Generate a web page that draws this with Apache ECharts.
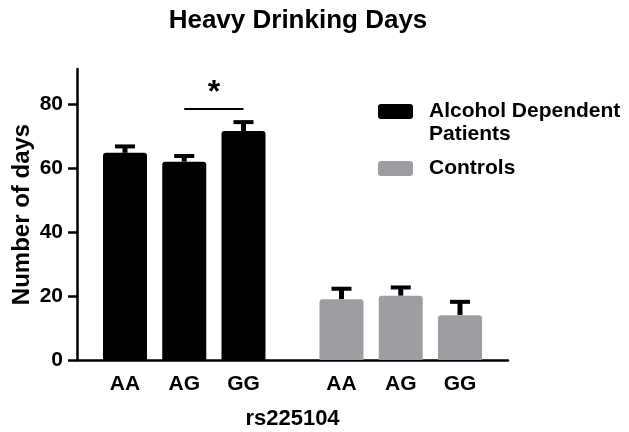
<!DOCTYPE html>
<html>
<head>
<meta charset="utf-8">
<script src="https://cdn.jsdelivr.net/npm/echarts@6/dist/echarts.min.js"></script>
<style>html,body{margin:0;padding:0;background:#fff;}#c{width:629px;height:432px;}</style>
</head>
<body>
<div id="c"></div>
<script>
// ---- data ----
var genotypes = ['AA', 'AG', 'GG'];
var groups = ['Alcohol Dependent Patients', 'Controls'];
var patientMeans = [64.8, 62.0, 71.6];
var patientErrors = [2.3, 2.1, 3.1];
var controlMeans = [19.0, 20.1, 14.0];
var controlErrors = [3.6, 2.9, 4.5];
var yTicks = [0, 20, 40, 60, 80];
var sigPair = [1, 2];      // AG vs GG in patients
var sigValue = 78.5;
var sigText = '*';

// ---- layout helpers ----
var FONT = '"Liberation Sans", Arial, sans-serif';
var startOffset = 0.81, groupGap = 0.654, xMax = 7.274;
function pos(groupIdx, catIdx) {
  var i = groupIdx * genotypes.length + catIdx;
  return startOffset + i + (groupIdx > 0 ? groupGap : 0);
}
var positions = [], posLabel = {};
[0, 1].forEach(function (g) {
  genotypes.forEach(function (c, k) {
    var p = +pos(g, k).toFixed(4);
    positions.push(p);
    posLabel[p] = c;
  });
});
function barData(g, means) { return means.map(function (v, k) { return [pos(g, k), v]; }); }
function errData(g, means, errs) { return means.map(function (v, k) { return [pos(g, k), v, errs[k]]; }); }

var chart = echarts.init(document.getElementById('c'));
chart.setOption({
  animation: false,
  title: {
    text: 'Heavy Drinking Days', left: 293, textAlign: 'center', top: 3,
    textStyle: { fontFamily: FONT, fontSize: 26, fontWeight: 'bold', color: '#000' }
  },
  grid: { left: 77, right: 121, top: 69, bottom: 72, containLabel: false, outerBoundsMode: 'none' },
  xAxis: {
    type: 'value', min: 0, max: xMax,
    name: 'rs225104', nameLocation: 'middle', nameGap: 48, nameMoveOverlap: false,
    nameTextStyle: { fontFamily: FONT, fontSize: 22, fontWeight: 'bold', color: '#000' },
    axisLine: { show: true, lineStyle: { color: '#000', width: 2.5 } },
    axisTick: { show: false },
    splitLine: { show: false },
    axisLabel: {
      customValues: positions, margin: 14,
      formatter: function (v) { return posLabel[+v.toFixed(4)] || ''; },
      fontFamily: FONT, fontSize: 21, fontWeight: 'bold', color: '#000'
    }
  },
  yAxis: {
    type: 'value', min: 0, max: 91,
    name: 'Number of days', nameLocation: 'middle', nameGap: 43, nameMoveOverlap: false,
    nameTextStyle: { fontFamily: FONT, fontSize: 24, fontWeight: 'bold', color: '#000' },
    axisLine: { show: true, lineStyle: { color: '#000', width: 2.5 } },
    axisTick: { show: true, customValues: yTicks, length: 9, lineStyle: { color: '#000', width: 2.5 } },
    splitLine: { show: false },
    axisLabel: { customValues: yTicks, margin: 14, fontFamily: FONT, fontSize: 21, fontWeight: 'bold', color: '#000' }
  },
  series: [
    {
      name: groups[0], type: 'bar', barWidth: 44, barGap: '-100%',
      itemStyle: { color: '#000', borderRadius: [3, 3, 0, 0] },
      data: barData(0, patientMeans),
      markLine: {
        silent: true, symbol: 'none',
        lineStyle: { color: '#000', width: 2, type: 'solid' },
        label: { show: true, position: 'middle', formatter: sigText, distance: 0,
                 fontFamily: FONT, fontSize: 32, fontWeight: 'bold', color: '#000' },
        data: [[{ coord: [pos(0, sigPair[0]), sigValue] }, { coord: [pos(0, sigPair[1]), sigValue] }]]
      }
    },
    {
      name: groups[1], type: 'bar', barWidth: 44, barGap: '-100%',
      itemStyle: { color: '#9e9ea2', borderRadius: [3, 3, 0, 0] },
      data: barData(1, controlMeans)
    },
    {
      type: 'custom', silent: true,
      data: errData(0, patientMeans, patientErrors).concat(errData(1, controlMeans, controlErrors)),
      renderItem: function (params, api) {
        var x = api.value(0), m = api.value(1), e = api.value(2);
        var base = api.coord([x, m]), top = api.coord([x, m + e]);
        return {
          type: 'group', children: [
            { type: 'rect', shape: { x: base[0] - 2.5, y: top[1], width: 5, height: base[1] - top[1] }, style: { fill: '#000' } },
            { type: 'rect', shape: { x: base[0] - 10, y: top[1] - 1, width: 20, height: 4 }, style: { fill: '#000' } }
          ]
        };
      }
    }
  ],
  graphic: [
    { type: 'rect', left: 378, top: 104, shape: { width: 35, height: 15, r: 3 }, style: { fill: '#000' } },
    { type: 'text', left: 429, top: 100, style: { text: 'Alcohol Dependent\nPatients', lineHeight: 23, fontFamily: FONT, fontSize: 21, fontWeight: 'bold', fill: '#000' } },
    { type: 'rect', left: 378, top: 161, shape: { width: 35, height: 15, r: 3 }, style: { fill: '#9e9ea2' } },
    { type: 'text', left: 429, top: 157, style: { text: 'Controls', lineHeight: 23, fontFamily: FONT, fontSize: 21, fontWeight: 'bold', fill: '#000' } }
  ]
});
</script>
</body>
</html>
